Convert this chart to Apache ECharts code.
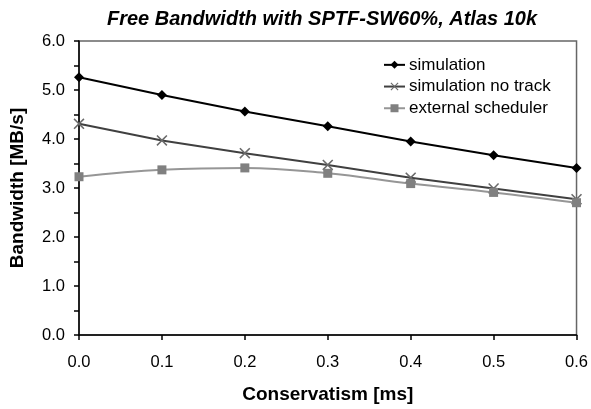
<!DOCTYPE html>
<html>
<head>
<meta charset="utf-8">
<script src="https://cdn.jsdelivr.net/npm/echarts@6/dist/echarts.min.js"></script>
<style>
    html, body { margin: 0; padding: 0; background: #fff; }
    #chart { width: 591px; height: 409px; }
</style>
</head>
<body>
<div id="chart"></div>
<script>
const conservatism = [0.0, 0.1, 0.2, 0.3, 0.4, 0.5, 0.6]
const simulation = [5.26, 4.90, 4.56, 4.26, 3.95, 3.67, 3.41]
const simulationNoTrack = [4.31, 3.97, 3.71, 3.47, 3.21, 2.99, 2.77]
const externalScheduler = [3.23, 3.37, 3.41, 3.30, 3.09, 2.91, 2.70]
const seriesNames = ['simulation', 'simulation no track', 'external scheduler']

const font = 'Arial, "Liberation Sans", sans-serif'
const crossPath = 'path://M0,1L1,0L5,4L9,0L10,1L6,5L10,9L9,10L5,6L1,10L0,9L4,5Z'

function pairs(values) {
    return conservatism.map((x, i) => [x, values[i]])
}

let myChart = echarts.init(document.getElementById('chart'))

let option = {
    animation: false,
    backgroundColor: '#fff',
    title: {
        text: 'Free Bandwidth with SPTF-SW60%, Atlas 10k',
        left: 102,
        top: 4,
        textStyle: {
            fontFamily: font,
            fontSize: 20,
            fontWeight: 'bold',
            fontStyle: 'italic',
            color: '#000'
        }
    },
    grid: {
        left: 76,
        right: 12,
        top: 41,
        bottom: 72,
        show: true,
        borderColor: '#666',
        borderWidth: 1.5
    },
    legend: {
        orient: 'vertical',
        left: 378,
        top: 49,
        itemWidth: 21,
        itemHeight: 10,
        itemGap: 0,
        textStyle: {
            fontFamily: font,
            fontSize: 17,
            lineHeight: 21.7,
            color: '#000',
            padding: [0, 0, 0, -1]
        },
        data: seriesNames
    },
    xAxis: {
        type: 'value',
        min: 0,
        max: 0.6,
        interval: 0.1,
        name: 'Conservatism [ms]',
        nameLocation: 'middle',
        nameGap: 50,
        nameTextStyle: { fontFamily: font, fontSize: 19, fontWeight: 'bold', color: '#000' },
        axisLine: { show: true, lineStyle: { color: '#000', width: 1.5 } },
        axisTick: { show: true, inside: false, length: 5, lineStyle: { color: '#000', width: 1.5 } },
        axisLabel: {
            margin: 19,
            fontFamily: font,
            fontSize: 16.5,
            color: '#000',
            formatter: v => v.toFixed(1)
        },
        splitLine: { show: false }
    },
    yAxis: {
        type: 'value',
        min: 0,
        max: 6,
        interval: 1,
        name: 'Bandwidth [MB/s]',
        nameLocation: 'middle',
        nameGap: 52,
        nameTextStyle: { fontFamily: font, fontSize: 19, fontWeight: 'bold', color: '#000' },
        axisLine: { show: true, lineStyle: { color: '#000', width: 1.5 } },
        axisTick: { show: true, inside: false, length: 5, lineStyle: { color: '#000', width: 1.5 } },
        minorTick: { show: true, splitNumber: 2, length: 5, lineStyle: { color: '#000', width: 1.5 } },
        axisLabel: {
            margin: 14,
            fontFamily: font,
            fontSize: 16.5,
            color: '#000',
            formatter: v => v.toFixed(1)
        },
        splitLine: { show: false }
    },
    series: [
        {
            name: seriesNames[0],
            type: 'line',
            data: pairs(simulation),
            symbol: 'diamond',
            symbolSize: 10,
            showSymbol: true,
            lineStyle: { color: '#000', width: 2 },
            itemStyle: { color: '#000' }
        },
        {
            name: seriesNames[1],
            type: 'line',
            data: pairs(simulationNoTrack),
            symbol: crossPath,
            symbolSize: 11,
            lineStyle: { color: '#404040', width: 2 },
            itemStyle: { color: '#6a6a6a' }
        },
        {
            name: seriesNames[2],
            type: 'line',
            data: pairs(externalScheduler),
            smooth: 0.4,
            symbol: 'rect',
            symbolSize: 9,
            lineStyle: { color: '#969696', width: 2 },
            itemStyle: { color: '#808080' }
        }
    ]
}

myChart.setOption(option)
</script>
</body>
</html>
